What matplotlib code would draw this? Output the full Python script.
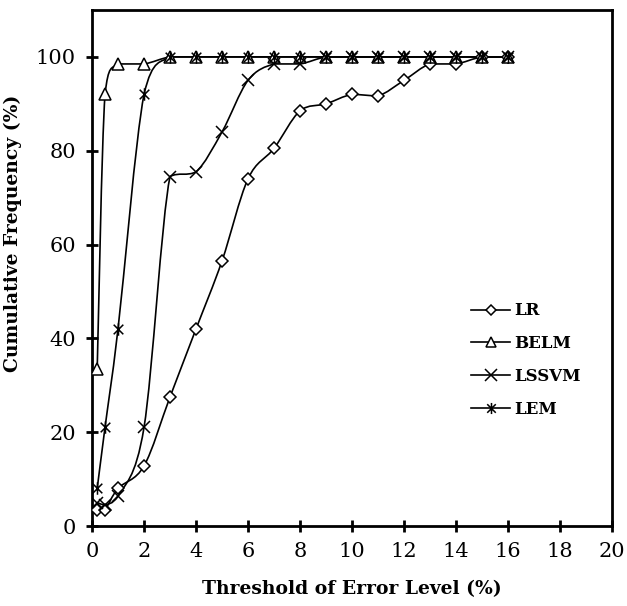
import numpy as np
import matplotlib.pyplot as plt
from matplotlib.path import Path
from matplotlib.patches import PathPatch
from matplotlib.lines import Line2D

# threshold of error level (%)
thresholds = [0.2, 0.5, 1, 2, 3, 4, 5, 6, 7, 8, 9, 10, 11, 12, 13, 14, 15, 16]

# cumulative frequency (%) for each model
lr = [3.5, 3.5, 8, 12.8, 27.5, 42, 56.5, 74, 80.5, 88.5, 90, 92, 91.7, 95, 98.5, 98.5, 100, 100]
belm = [33.5, 92, 98.5, 98.5, 100, 100, 100, 100, 100, 100, 100, 100, 100, 100, 100, 100, 100, 100]
lssvm = [5, 4.5, 6.3, 21, 74.5, 75.5, 84, 95, 98.5, 98.5, 100, 100, 100, 100, 100, 100, 100, 100]
lem = [8, 21, 42, 92, 100, 100, 100, 100, 100, 100, 100, 100, 100, 100, 100, 100, 100, 100]

names = ["LR", "BELM", "LSSVM", "LEM"]

# asterisk marker like excel: x with a vertical bar
star_path = Path(
    [(-1, -1), (1, 1), (-1, 1), (1, -1), (0, -1.3), (0, 1.3)],
    [Path.MOVETO, Path.LINETO, Path.MOVETO, Path.LINETO, Path.MOVETO, Path.LINETO],
)
markers = ["D", "^", "x", star_path]
msizes = [6, 8, 9, 9]


def smooth_path(xs, ys, sx, sy):
    # bezier through the points (like excel "smoothed line"), control points
    # kept inside each segment's box so the curve does not overshoot much
    pts = np.column_stack([np.asarray(xs, float) * sx, np.asarray(ys, float) * sy])
    n = len(pts)
    verts = [pts[0]]
    codes = [Path.MOVETO]
    for i in range(n - 1):
        p0 = pts[max(i - 1, 0)]
        p1 = pts[i]
        p2 = pts[i + 1]
        p3 = pts[min(i + 2, n - 1)]
        c1 = p1 + (p2 - p0) / 6
        c2 = p2 - (p3 - p1) / 6
        lo = np.minimum(p1, p2)
        hi = np.maximum(p1, p2)
        c1 = np.clip(c1, lo, hi)
        c2 = np.clip(c2, lo, hi)
        verts += [c1, c2, p2]
        codes += [Path.CURVE4] * 3
    verts = np.array(verts) / [sx, sy]
    return Path(verts, codes)


fig = plt.figure(figsize=(6.27, 6.06), dpi=100)
ax = fig.add_axes([92 / 627, 1 - 526 / 606, 520 / 627, 516 / 606])

sx, sy = 520 / 20, 516 / 110
handles = []
for vals, name, mk, ms in zip([lr, belm, lssvm, lem], names, markers, msizes):
    ax.add_patch(PathPatch(smooth_path(thresholds, vals, sx, sy), fill=False,
                           edgecolor="black", lw=1.2, zorder=2))
    ax.plot(thresholds, vals, linestyle="none", marker=mk, markersize=ms,
            markerfacecolor="white" if mk in ("D", "^") else "none",
            markeredgecolor="black", markeredgewidth=1.1, zorder=3)
    handles.append(Line2D([], [], color="black", lw=1.2, marker=mk, markersize=ms - 1,
                          markerfacecolor="white" if mk in ("D", "^") else "none",
                          markeredgecolor="black", markeredgewidth=1.1, label=name))

ax.set_xlim(0, 20)
ax.set_ylim(0, 110)
ax.set_xticks(range(0, 21, 2))
ax.set_yticks(range(0, 101, 20))
for s in ax.spines.values():
    s.set_linewidth(2)
ax.tick_params(direction="inout", length=9, width=2, labelsize=15, pad=7)
for lab in ax.get_xticklabels() + ax.get_yticklabels():
    lab.set_family("DejaVu Serif")

ax.set_xlabel("Threshold of Error Level (%)", family="DejaVu Serif",
              fontweight="bold", fontsize=13.5)
ax.set_ylabel("Cumulative Frequency (%)", family="DejaVu Serif",
              fontweight="bold", fontsize=13.5)
ax.xaxis.set_label_coords(0.5, -0.105)
ax.yaxis.set_label_coords(-0.135, 0.568)

fig.legend(handles=handles, loc="upper left", bbox_to_anchor=(463 / 627, 1 - 294 / 606),
           frameon=False, borderpad=0, handlelength=2.3, handletextpad=0.3,
           labelspacing=0.95, prop={"family": "DejaVu Serif", "weight": "bold", "size": 12})

fig.savefig("out.png", dpi=100)
